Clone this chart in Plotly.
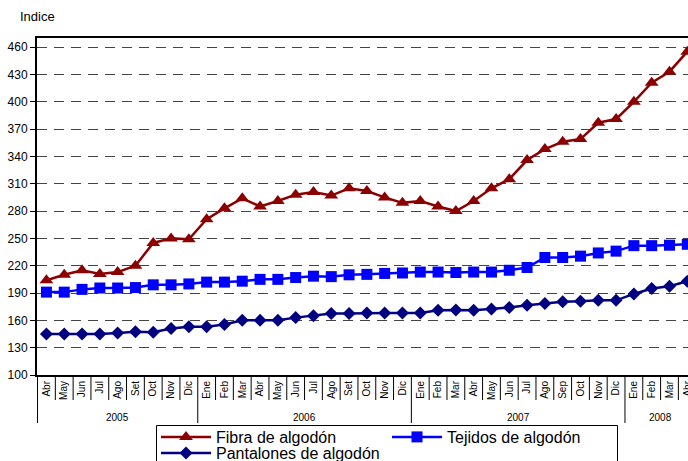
import plotly.graph_objects as go

years = ["2005"] * 9 + ["2006"] * 12 + ["2007"] * 12 + ["2008"] * 4
months = ["Abr", "May", "Jun", "Jul", "Ago", "Set", "Oct", "Nov", "Dic",
          "Ene", "Feb", "Mar", "Abr", "May", "Jun", "Jul", "Ago", "Set", "Oct", "Nov", "Dic",
          "Ene", "Feb", "Mar", "Abr", "May", "Jun", "Jul", "Ago", "Sep", "Oct", "Nov", "Dic",
          "Ene", "Feb", "Mar", "Abr"]

fibra = [204, 210, 215, 211, 213, 220, 245, 250, 249,
         271, 283, 294, 285, 291, 298, 301, 297, 305, 302, 295, 289,
         291, 285, 280, 291, 305, 315, 336, 348, 356, 359, 377, 381,
         400, 421, 433, 455]
tejidos = [191, 191, 194, 195.5, 195.5, 196, 199, 199, 200,
           202, 202, 203, 205, 205, 207, 208.5, 208, 210, 210.5, 211.5, 212,
           213, 213, 212.5, 213, 213, 215, 218, 229, 229, 230.5, 234, 236,
           242, 242, 242.5, 243.5]
pantalones = [145, 145, 145, 145, 146, 147.5, 147, 151, 153,
              153, 155.5, 160, 160, 160, 163, 165, 167.5, 167.5, 168, 168, 168,
              168, 171, 171.5, 171, 172.5, 174, 176.5, 178.5, 180.5, 181, 182, 182,
              189, 195, 197.5, 203]

idx = list(range(len(months)))
XMIN, XMAX = -0.53, 36.04
W, H = 688, 461
ML, MT, MB = 37, 38, 86
PLOT_H = H - MT - MB
PLOT_W = W - ML

def py(px_below):  # pixels below plot bottom -> paper y
    return -px_below / PLOT_H

def px(screen_x):  # page x -> paper x
    return (screen_x - ML) / PLOT_W

fig = go.Figure()
fig.add_trace(go.Scatter(x=idx, y=fibra, name="Fibra de algodón", mode="lines+markers",
                         line=dict(color="#8B0000", width=2.5),
                         marker=dict(symbol="triangle-up", size=12, color="#8B0000"),
                         cliponaxis=False, legend="legend"))
fig.add_trace(go.Scatter(x=idx, y=tejidos, name="Tejidos de algodón", mode="lines+markers",
                         line=dict(color="#0000FF", width=2.5),
                         marker=dict(symbol="square", size=11, color="#0000FF"),
                         cliponaxis=False, legend="legend"))
fig.add_trace(go.Scatter(x=idx, y=pantalones, name="Pantalones de algodón", mode="lines+markers",
                         line=dict(color="#000080", width=2.5),
                         marker=dict(symbol="diamond", size=10, color="#000080"),
                         cliponaxis=False, legend="legend2"))

shapes = []
annotations = [dict(text="Indice", xref="paper", yref="paper", x=px(20) - 0.003, y=1 + 21 / PLOT_H,
                    xanchor="left", yanchor="middle", showarrow=False,
                    font=dict(size=13))]
short_len = 25 / PLOT_H
long_len = 48 / PLOT_H
for i in range(len(months)):
    b = i - 0.5
    new_year = (i == 0) or (years[i] != years[i - 1])
    shapes.append(dict(type="line", xref="x", yref="paper", x0=b, x1=b, y0=0,
                       y1=-(long_len if new_year else short_len),
                       line=dict(color="black", width=1)))
groups = []
for i, yv in enumerate(years):
    if not groups or groups[-1][0] != yv:
        groups.append([yv, i, i])
    else:
        groups[-1][2] = i
for yv, a, b in groups:
    annotations.append(dict(text=yv, xref="x", yref="paper", x=(a + b) / 2, y=py(42),
                            xanchor="center", yanchor="middle", showarrow=False,
                            font=dict(size=10)))
# legend frame
shapes.append(dict(type="rect", xref="paper", yref="paper", x0=px(156.5), x1=px(617.5),
                   y0=py(50.5), y1=py(200), line=dict(color="black", width=1),
                   fillcolor="white", layer="below"))

fig.update_layout(
    width=W, height=H,
    margin=dict(l=ML, r=0, t=MT, b=MB, autoexpand=False),
    paper_bgcolor="white", plot_bgcolor="white",
    font=dict(family="Liberation Sans, Arial, sans-serif", color="black", size=11),
    showlegend=True,
    legend=dict(orientation="h", x=px(156), y=py(45), xanchor="left", yanchor="top",
                borderwidth=0, bgcolor="rgba(0,0,0,0)",
                font=dict(size=16, color="black"),
                entrywidth=166, entrywidthmode="pixels",
                traceorder="normal", itemwidth=50),
    legend2=dict(orientation="h", x=px(156), y=py(61), xanchor="left", yanchor="top",
                 borderwidth=0, bgcolor="rgba(0,0,0,0)",
                 font=dict(size=16, color="black"), itemwidth=50),
    shapes=shapes,
    annotations=annotations,
)

fig.update_xaxes(
    range=[XMIN, XMAX], automargin=False,
    tickvals=idx, ticktext=months, tickangle=-90, tickfont=dict(size=10),
    ticklabeloverflow="allow",
    ticks="", showline=True, linecolor="black", linewidth=2, mirror=True,
    showgrid=False, zeroline=False,
)
fig.update_yaxes(
    range=[100, 470], tick0=100, dtick=30, automargin=False,
    showline=True, linecolor="black", linewidth=2,
    ticks="outside", ticklen=5, tickcolor="black",
    showgrid=True, gridcolor="#444444", gridwidth=1, griddash="10px,7px",
    tickfont=dict(size=12), zeroline=False,
)

fig.write_html("out.html", config={"displayModeBar": False},
               post_script="document.body.style.margin='0';document.body.style.overflow='hidden';")
